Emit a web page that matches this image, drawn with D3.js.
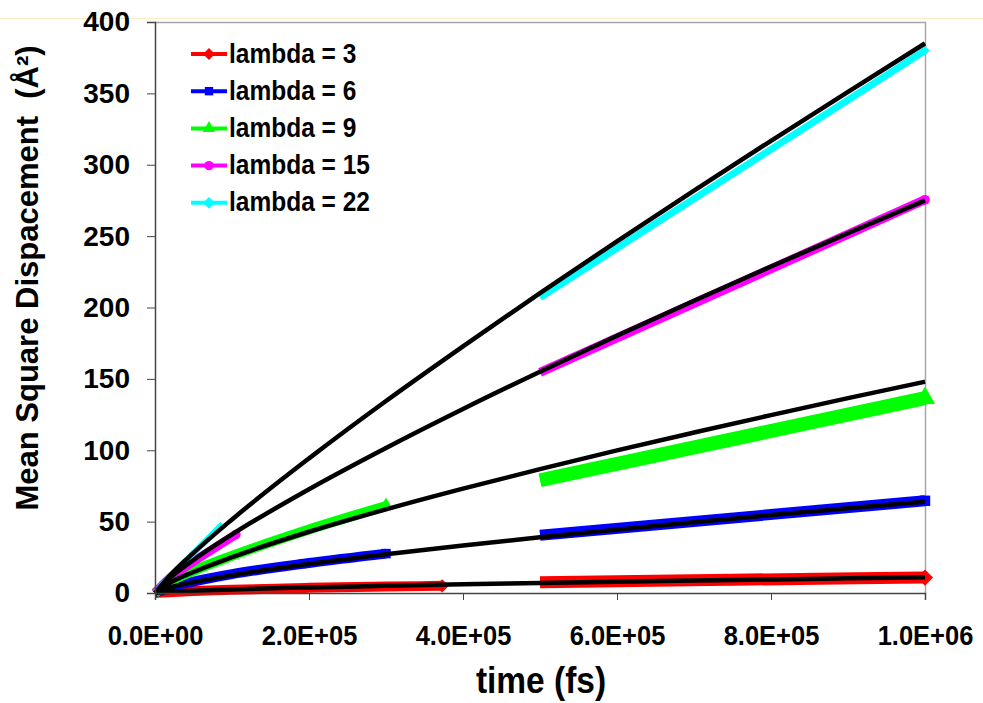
<!DOCTYPE html>
<html>
<head>
<meta charset="utf-8">
<script src="https://cdn.jsdelivr.net/npm/d3@7"></script>
<style>
  body { margin: 0; background: #fff; }
  text { font-family: "Liberation Sans", Arial, sans-serif; font-weight: bold; fill: #000; }
</style>
</head>
<body>
<div id="chart"></div>
<script>
// fitted curves (black), read at these times
const fitTimes = [0, 2e4, 5e4, 1e5, 2e5, 3e5, 4e5, 5e5, 6e5, 7e5, 8e5, 9e5, 1e6];
const fit3  = [0, 0.9, 1.6, 2.5, 3.9, 5.0, 6.1, 7.0, 7.9, 8.7, 9.5, 10.3, 11];
const fit6  = [0, 3.9, 7.5, 12.4, 20.3, 27.1, 33.3, 39.0, 44.4, 49.6, 54.6, 59.4, 64];
const fit9  = [0, 7.3, 14.7, 25.1, 42.9, 58.6, 73.1, 86.8, 99.9, 112.4, 124.6, 136.5, 148];
const fit15 = [0, 10.8, 23.1, 41.0, 72.7, 101.6, 128.9, 155.0, 180.2, 204.7, 228.7, 252.0, 275];
const fit22 = [0, 12.6, 28.1, 51.5, 94.3, 134.5, 172.8, 210.1, 246.4, 281.9, 316.8, 351.1, 385];

// simulation data, early and late parts
const t3Early = [0, 5e4, 1e5, 2e5, 3e5, 3.73e5];
const msd3Early = [0, 1.4, 2.3, 3.6, 4.5, 5.0];
const t3Late = [5e5, 7.5e5, 1e6];
const msd3Late = [7.6, 9.3, 10.8];

const t6Early = [0, 2e4, 5e4, 1e5, 2e5, 3e5];
const msd6Early = [0, 4.2, 8.0, 13.2, 21.0, 27.6];
const t6Late = [5e5, 1e6];
const msd6Late = [40.5, 64.6];

const t9Early = [0, 2e4, 5e4, 1e5, 2e5, 3e5];
const msd9Early = [0, 8, 15.5, 26, 44.5, 61];
const t9Late = [5e5, 1e6];
const msd9Late = [79, 136.5];

const t15Early = [0, 2e4, 5e4, 1.05e5];
const msd15Early = [0, 11, 22, 41];
const t15Late = [5e5, 1e6];
const msd15Late = [154.5, 275.5];

const t22Early = [0, 2e4, 5e4, 8.5e4];
const msd22Early = [0, 12, 28, 47];
const t22Late = [5e5, 1e6];
const msd22Late = [207, 380];

const legendLabels = ["lambda = 3", "lambda = 6", "lambda = 9", "lambda = 15", "lambda = 22"];
const xTicks = [0, 2e5, 4e5, 6e5, 8e5, 1e6];
const xTickLabels = ["0.0E+00", "2.0E+05", "4.0E+05", "6.0E+05", "8.0E+05", "1.0E+06"];
const yTicks = [0, 50, 100, 150, 200, 250, 300, 350, 400];

drawChart();

function drawChart() {

    let width = 983, height = 703;
    let plot = { left: 155, right: 925, top: 22, bottom: 593 };

    let svg = d3.select("#chart").append("svg")
        .attr("width", width)
        .attr("height", height);

    // faint line across the top
    svg.append("line")
        .attr("x1", 0).attr("x2", width)
        .attr("y1", 18.5).attr("y2", 18.5)
        .attr("stroke", "#fdebc6").attr("stroke-width", 1);

    let x = d3.scaleLinear().domain([0, 1e6]).range([plot.left, plot.right]);
    let y = d3.scaleLinear().domain([0, 400]).range([plot.bottom, plot.top]);

    // plot border (top and right)
    svg.append("path")
        .attr("d", `M${plot.left},${plot.top + 0.5}H${plot.right + 0.5}V${plot.bottom}`)
        .attr("fill", "none").attr("stroke", "#a6a6a6").attr("stroke-width", 1.5);

    let diamond = { draw: (ctx, size) => {
        let r = Math.sqrt(size / 2);
        ctx.moveTo(0, -r); ctx.lineTo(r, 0); ctx.lineTo(0, r); ctx.lineTo(-r, 0); ctx.closePath();
    } };

    let series = [
        { color: "#ff0000", shape: diamond, early: [t3Early, msd3Early], late: [t3Late, msd3Late], we: 10, wl: 12 },
        { color: "#0000ff", shape: d3.symbolSquare, early: [t6Early, msd6Early], late: [t6Late, msd6Late], we: 10, wl: 11 },
        { color: "#00ff00", shape: d3.symbolTriangle, early: [t9Early, msd9Early], late: [t9Late, msd9Late], we: 10, wl: 14 },
        { color: "#ff00ff", shape: d3.symbolCircle, early: [t15Early, msd15Early], late: [t15Late, msd15Late], we: 9, wl: 9 },
        { color: "#00ffff", shape: diamond, early: [t22Early, msd22Early], late: [t22Late, msd22Late], we: 6, wl: 7 }
    ];

    let line = d3.line()
        .x(d => x(d[0]))
        .y(d => y(d[1]))
        .curve(d3.curveMonotoneX);

    let zip = (ts, vs) => ts.map((t, i) => [t, vs[i]]);

    // coloured data series
    series.forEach(s => {
        [["early", s.we], ["late", s.wl]].forEach(([k, w]) => {
            let pts = zip(s[k][0], s[k][1]);
            svg.append("path")
                .datum(pts)
                .attr("d", line)
                .attr("fill", "none")
                .attr("stroke", s.color)
                .attr("stroke-width", w);
            let last = pts[pts.length - 1];
            svg.append("path")
                .attr("d", d3.symbol().type(s.shape).size(w * w * 0.9)())
                .attr("transform", "translate(" + x(last[0]) + "," + y(last[1]) + ")")
                .attr("fill", s.color);
        });
    });

    // black fitted curves on top
    [fit3, fit6, fit9, fit15, fit22].forEach(f => {
        svg.append("path")
            .datum(zip(fitTimes, f))
            .attr("d", line)
            .attr("fill", "none")
            .attr("stroke", "#000")
            .attr("stroke-width", 4.5);
    });

    // x axis
    let xAxis = svg.append("g")
        .attr("transform", "translate(0," + plot.bottom + ")")
        .call(d3.axisBottom(x).tickValues(xTicks).tickSize(7).tickFormat((d, i) => xTickLabels[i]));
    xAxis.select(".domain").attr("stroke", "#444").attr("stroke-width", 1.5);
    xAxis.selectAll(".tick line").attr("stroke", "#444");
    xAxis.selectAll(".tick text")
        .attr("y", 0).attr("dy", 0)
        .attr("transform", "translate(0,52) scale(1,1.1)")
        .style("font-size", "25.5px");

    // y axis
    let yAxis = svg.append("g")
        .attr("transform", "translate(" + plot.left + ",0)")
        .call(d3.axisLeft(y).tickValues(yTicks).tickSize(8));
    yAxis.select(".domain").attr("stroke", "#444").attr("stroke-width", 1.5);
    yAxis.selectAll(".tick line").attr("stroke", "#444");
    yAxis.selectAll(".tick text")
        .attr("x", -25)
        .style("font-size", "28px");

    svg.append("text")
        .attr("transform", "translate(541,693) scale(1,1.1)")
        .style("text-anchor", "middle")
        .style("font-size", "33.5px")
        .text("time (fs)");

    svg.append("text")
        .attr("transform", "translate(38,278) rotate(-90)")
        .style("text-anchor", "middle")
        .style("font-size", "31px")
        .style("white-space", "pre")
        .text("Mean Square Dispacement  (Å²)");

    // legend
    let legend = svg.append("g");
    series.forEach((s, i) => {
        let ly = 54 + i * 37.2;
        legend.append("line")
            .attr("x1", 191).attr("x2", 227)
            .attr("y1", ly).attr("y2", ly)
            .attr("stroke", s.color).attr("stroke-width", 4);
        legend.append("path")
            .attr("d", d3.symbol().type(s.shape).size(70)())
            .attr("transform", "translate(209," + ly + ")")
            .attr("fill", s.color);
        legend.append("text")
            .attr("transform", "translate(229," + (ly + 8.5) + ") scale(1,1.1)")
            .style("font-size", "24.5px")
            .text(legendLabels[i]);
    });
}
</script>
</body>
</html>
